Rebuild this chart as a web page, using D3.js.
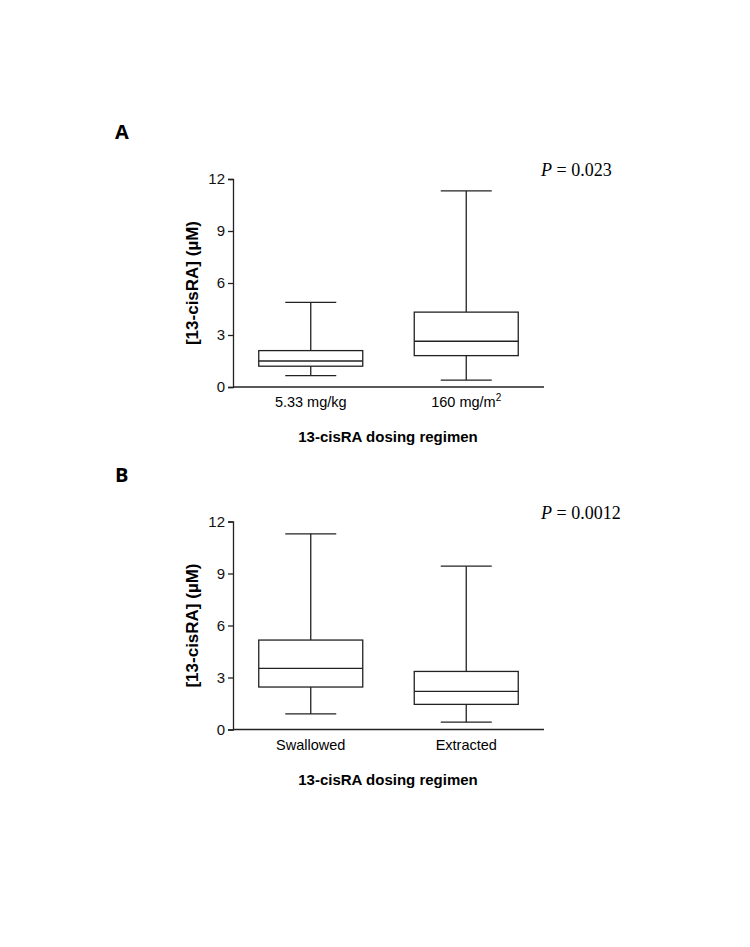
<!DOCTYPE html>
<html>
<head>
<meta charset="utf-8">
<script src="https://cdn.jsdelivr.net/npm/d3@7"></script>
<style>
  body { margin: 0; background: #fff; }
  svg text { font-family: Arial, "Liberation Sans", sans-serif; }
</style>
</head>
<body>
<div id="chart"></div>
<script>
// Box plot summaries: [whisker low, Q1, median, Q3, whisker high]
var categoriesA = ['5.33 mg/kg', '160 mg/m'];
var statsA = [
    [0.66, 1.2, 1.5, 2.1, 4.88],
    [0.40, 1.81, 2.64, 4.32, 11.31]
];
var categoriesB = ['Swallowed', 'Extracted'];
var statsB = [
    [0.90, 2.45, 3.53, 5.16, 11.29],
    [0.42, 1.45, 2.2, 3.35, 9.42]
];
var yTicks = [0, 3, 6, 9, 12];

var W = 750, H = 947;
var svg = d3.select('#chart').append('svg')
    .attr('width', W)
    .attr('height', H);

var ink = '#222';

function panel(letter, pText, cats, stats, top)
{
    var g = svg.append('g');
    var y = d3.scaleLinear().domain([0, 12]).range([top + 208, top]);
    var x = d3.scalePoint().domain(cats).range([233, 544]).padding(0.5);

    // Panel letter and P value
    g.append('text')
        .attr('x', 115).attr('y', top - 40)
        .style('font-family', '"Open Sans", Arial, sans-serif')
        .style('font-size', '20px').style('font-weight', 'bold')
        .text(letter);
    var p = g.append('text')
        .attr('x', 541).attr('y', top - 3)
        .style('font-family', '"Liberation Serif", "Times New Roman", serif')
        .style('font-size', '18px');
    p.append('tspan').style('font-style', 'italic').text('P');
    p.append('tspan').text(' = ' + pText);

    // Y axis
    var ya = g.append('g')
        .attr('transform', 'translate(233,0)')
        .call(d3.axisLeft(y).tickValues(yTicks).tickSize(5).tickPadding(3));
    ya.select('.domain').attr('stroke', ink).attr('stroke-width', 1.3);
    ya.selectAll('.tick line').attr('stroke', ink).attr('stroke-width', 1.3);
    ya.selectAll('.tick text')
        .style('font-size', '15px').attr('fill', '#111');

    // X axis line (no ticks)
    g.append('line')
        .attr('x1', 233).attr('x2', 544)
        .attr('y1', y(0)).attr('y2', y(0))
        .attr('stroke', ink).attr('stroke-width', 1.3);

    // Category labels
    cats.forEach(function(c, i){
        var t = g.append('text')
            .attr('x', x(c)).attr('y', y(0) + 20)
            .attr('text-anchor', 'middle')
            .style('font-size', '14.5px')
            .text(c);
        if(c == '160 mg/m')
            t.append('tspan').attr('dy', -6).style('font-size', '10px').text('2');
    });

    // Axis titles
    g.append('text')
        .attr('transform', 'translate(198,' + (y(6)) + ') rotate(-90)')
        .attr('text-anchor', 'middle')
        .style('font-size', '17px').style('font-weight', 'bold')
        .text('[13-cisRA] (\u00b5M)');
    g.append('text')
        .attr('x', 388).attr('y', y(0) + 55)
        .attr('text-anchor', 'middle')
        .style('font-size', '15px').style('font-weight', 'bold')
        .text('13-cisRA dosing regimen');

    // Boxes
    var boxW = 104, capW = 51;
    var b = g.selectAll('.box')
        .data(stats)
        .enter()
        .append('g')
        .attr('class', 'box')
        .attr('stroke', ink)
        .attr('stroke-width', 1.3)
        .attr('fill', 'none');

    b.append('line')
        .attr('x1', function(d, i){ return x(cats[i]); })
        .attr('x2', function(d, i){ return x(cats[i]); })
        .attr('y1', function(d){ return y(d[4]); })
        .attr('y2', function(d){ return y(d[3]); });
    b.append('line')
        .attr('x1', function(d, i){ return x(cats[i]); })
        .attr('x2', function(d, i){ return x(cats[i]); })
        .attr('y1', function(d){ return y(d[1]); })
        .attr('y2', function(d){ return y(d[0]); });
    [0, 4].forEach(function(k){
        b.append('line')
            .attr('x1', function(d, i){ return x(cats[i]) - capW / 2; })
            .attr('x2', function(d, i){ return x(cats[i]) + capW / 2; })
            .attr('y1', function(d){ return y(d[k]); })
            .attr('y2', function(d){ return y(d[k]); });
    });
    b.append('rect')
        .attr('x', function(d, i){ return x(cats[i]) - boxW / 2; })
        .attr('width', boxW)
        .attr('y', function(d){ return y(d[3]); })
        .attr('height', function(d){ return y(d[1]) - y(d[3]); });
    b.append('line')
        .attr('x1', function(d, i){ return x(cats[i]) - boxW / 2; })
        .attr('x2', function(d, i){ return x(cats[i]) + boxW / 2; })
        .attr('y1', function(d){ return y(d[2]); })
        .attr('y2', function(d){ return y(d[2]); });
}

panel('A', '0.023', categoriesA, statsA, 179);
panel('B', '0.0012', categoriesB, statsB, 521.5);
</script>
</body>
</html>
